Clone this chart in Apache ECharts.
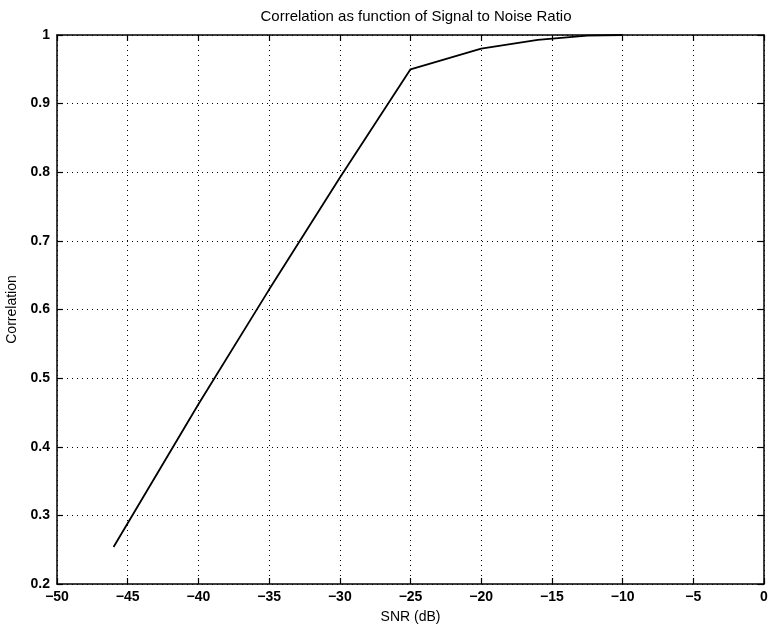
<!DOCTYPE html>
<html>
<head>
<meta charset="utf-8">
<script src="https://cdn.jsdelivr.net/npm/echarts@6/dist/echarts.min.js"></script>
<style>
  html, body { margin: 0; padding: 0; background: #fff; }
  #chart { width: 772px; height: 631px; }
</style>
</head>
<body>
<div id="chart"></div>
<script>
// values
const snr = [-46, -40, -35, -30, -25, -20, -16, -12.5, -10]
const correlation = [0.254, 0.462, 0.629, 0.792, 0.95, 0.98, 0.993, 0.999, 1.0]

const xTicks = { min: -50, max: 0, step: 5 }
const yTicks = { min: 0.2, max: 1, step: 0.1 }

const font = 'Liberation Sans, Arial, Helvetica, sans-serif'

const points = snr.map((x, i) => [x, correlation[i]])

const minus = v => String(+v.toFixed(2)).replace('-', '\u2212')

const chart = echarts.init(document.getElementById('chart'))

// top / right axes only draw the box and inward ticks
const frameAxis = {
  axisLine: { show: true, onZero: false, lineStyle: { color: '#000', width: 1.5 } },
  axisTick: { show: true, inside: true, length: 6, lineStyle: { color: '#000', width: 1.2 } },
  splitLine: { show: false },
  axisLabel: { show: false }
}

const labelStyle = { fontFamily: font, fontSize: 14, fontWeight: 'bold', color: '#000' }

chart.setOption({
  animation: false,
  backgroundColor: '#fff',
  title: {
    text: 'Correlation as function of Signal to Noise Ratio',
    left: 411,
    textAlign: 'center',
    top: 4,
    textStyle: { fontFamily: font, fontSize: 15, fontWeight: 'normal', color: '#000' }
  },
  grid: { left: 57, right: 8, top: 35, bottom: 47, containLabel: false, outerBoundsMode: 'none' },
  xAxis: [
    {
      type: 'value',
      min: xTicks.min, max: xTicks.max, interval: xTicks.step,
      name: 'SNR (dB)',
      nameLocation: 'middle',
      nameGap: 26,
      nameTextStyle: { fontFamily: font, fontSize: 14, color: '#000' },
      axisLine: { show: true, onZero: false, lineStyle: { color: '#000', width: 1.5 } },
      axisTick: { show: true, inside: true, length: 6, lineStyle: { color: '#000', width: 1.2 } },
      axisLabel: Object.assign({ margin: 6, formatter: minus }, labelStyle),
      splitLine: { show: true, lineStyle: { color: '#000', type: [1, 4], width: 1 } }
    },
    Object.assign({ type: 'value', position: 'top', min: xTicks.min, max: xTicks.max, interval: xTicks.step }, frameAxis)
  ],
  yAxis: [
    {
      type: 'value',
      min: yTicks.min, max: yTicks.max, interval: yTicks.step,
      name: 'Correlation',
      nameLocation: 'middle',
      nameGap: 30,
      nameTextStyle: { fontFamily: font, fontSize: 14, color: '#000' },
      axisLine: { show: true, onZero: false, lineStyle: { color: '#000', width: 1.5 } },
      axisTick: { show: true, inside: true, length: 6, lineStyle: { color: '#000', width: 1.2 } },
      axisLabel: Object.assign({ margin: 7, formatter: minus }, labelStyle),
      splitLine: { show: true, lineStyle: { color: '#000', type: [1, 4], width: 1 } }
    },
    Object.assign({ type: 'value', position: 'right', min: yTicks.min, max: yTicks.max, interval: yTicks.step }, frameAxis)
  ],
  series: [
    {
      type: 'line',
      data: points,
      showSymbol: false,
      symbol: 'none',
      lineStyle: { color: '#000', width: 1.8 },
      clip: true
    }
  ]
})
</script>
</body>
</html>
